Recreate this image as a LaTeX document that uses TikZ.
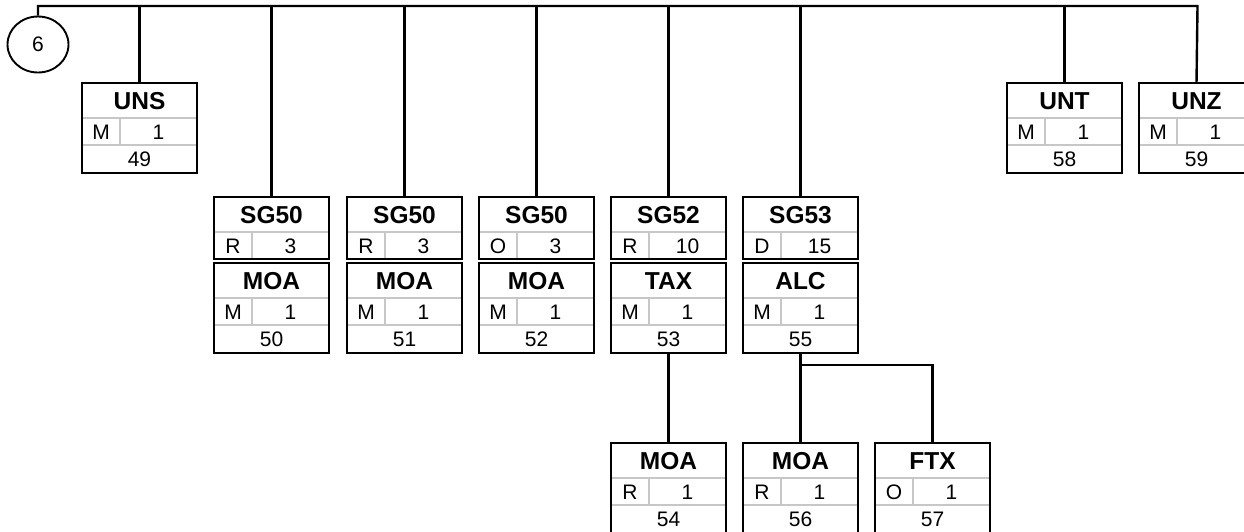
\documentclass[tikz,border=0pt]{standalone}
\usepackage{fontspec}
\setmainfont{Liberation Sans}
\usetikzlibrary{shapes.geometric}
\tikzset{
  frame/.style={draw=black, line width=2.6pt},
  gridline/.style={draw=black!22, line width=2pt},
  conn/.style={draw=black, line width=2.4pt},
  ttl/.style={font=\fontsize{24.5}{26}\selectfont\bfseries, inner sep=0pt},
  txt/.style={font=\fontsize{21}{23}\selectfont, inner sep=0pt},
  boxshape/.style={anchor=north west, minimum width=115pt, inner sep=0pt, outer sep=0pt},
}
% segment box: name, x, y(top, downward), title, status, repetition, number
\newcommand\segbox[7]{%
  \node[boxshape, minimum height=90pt] (#1) at (#2,-#3) {};
  \draw[gridline] ([yshift=-35pt]#1.north west) -- ([yshift=-35pt]#1.north east);
  \draw[gridline] ([yshift=-62pt]#1.north west) -- ([yshift=-62pt]#1.north east);
  \draw[gridline] ([xshift=38pt,yshift=-35pt]#1.north west) -- ([xshift=38pt,yshift=-62pt]#1.north west);
  \draw[frame] (#1.north west) rectangle (#1.south east);
  \node[ttl] (#1-t) at ([yshift=-18pt]#1.north) {#4};
  \node[txt] (#1-s) at ([xshift=19pt,yshift=-49pt]#1.north west) {#5};
  \node[txt] (#1-r) at ([xshift=76.5pt,yshift=-49pt]#1.north west) {#6};
  \node[txt] (#1-n) at ([yshift=-76.5pt]#1.north) {#7};
}
% segment group header box: name, x, y, title, status, repetition
\newcommand\grpbox[6]{%
  \node[boxshape, minimum height=62pt] (#1) at (#2,-#3) {};
  \draw[gridline] ([yshift=-35pt]#1.north west) -- ([yshift=-35pt]#1.north east);
  \draw[gridline] ([xshift=38pt,yshift=-35pt]#1.north west) -- ([xshift=38pt]#1.south west);
  \draw[frame] (#1.north west) rectangle (#1.south east);
  \node[ttl] (#1-t) at ([yshift=-18pt]#1.north) {#4};
  \node[txt] (#1-s) at ([xshift=19pt,yshift=-49pt]#1.north west) {#5};
  \node[txt] (#1-r) at ([xshift=76.5pt,yshift=-49pt]#1.north west) {#6};
}
\begin{document}
\begin{tikzpicture}[x=1pt,y=1pt]
\clip (0,0) rectangle (1244,-531);
\fill[white] (0,0) rectangle (1244,-531);

\node[draw, ellipse, line width=1.9pt, minimum width=61pt, minimum height=56pt, inner sep=0pt,
      font=\fontsize{21}{23}\selectfont] (c6) at (38,-44.5) {6};

\segbox{uns}{82}{83}{UNS}{M}{1}{49}
\grpbox{sga}{214}{197}{SG50}{R}{3}
\segbox{moa50}{214}{263}{MOA}{M}{1}{50}
\grpbox{sgb}{347}{197}{SG50}{R}{3}
\segbox{moa51}{347}{263}{MOA}{M}{1}{51}
\grpbox{sgc}{479}{197}{SG50}{O}{3}
\segbox{moa52}{479}{263}{MOA}{M}{1}{52}
\grpbox{sgd}{611}{197}{SG52}{R}{10}
\segbox{tax}{611}{263}{TAX}{M}{1}{53}
\grpbox{sge}{743}{197}{SG53}{D}{15}
\segbox{alc}{743}{263}{ALC}{M}{1}{55}
\segbox{moa54}{611}{443}{MOA}{R}{1}{54}
\segbox{moa56}{743}{443}{MOA}{R}{1}{56}
\segbox{ftx}{875}{443}{FTX}{O}{1}{57}
\segbox{unt}{1007}{83}{UNT}{M}{1}{58}
\segbox{unz}{1139}{83}{UNZ}{M}{1}{59}

\coordinate (busL) at (38,-6);
\coordinate (busR) at (1197.5,-6);
\draw[conn] (c6.north) -- (busL) -- (busR) -- (unz.north);
\foreach \n in {uns,sga,sgb,sgc,sgd,sge,unt}
  \draw[conn] (\n.north) -- (\n.north |- busL);
\draw[conn] (tax.south) -- (moa54.north);
\draw[conn] (alc.south) -- (moa56.north);
\coordinate (brk) at (800.5,-365);
\draw[conn] (brk) -| (ftx.north);
\end{tikzpicture}
\end{document}
